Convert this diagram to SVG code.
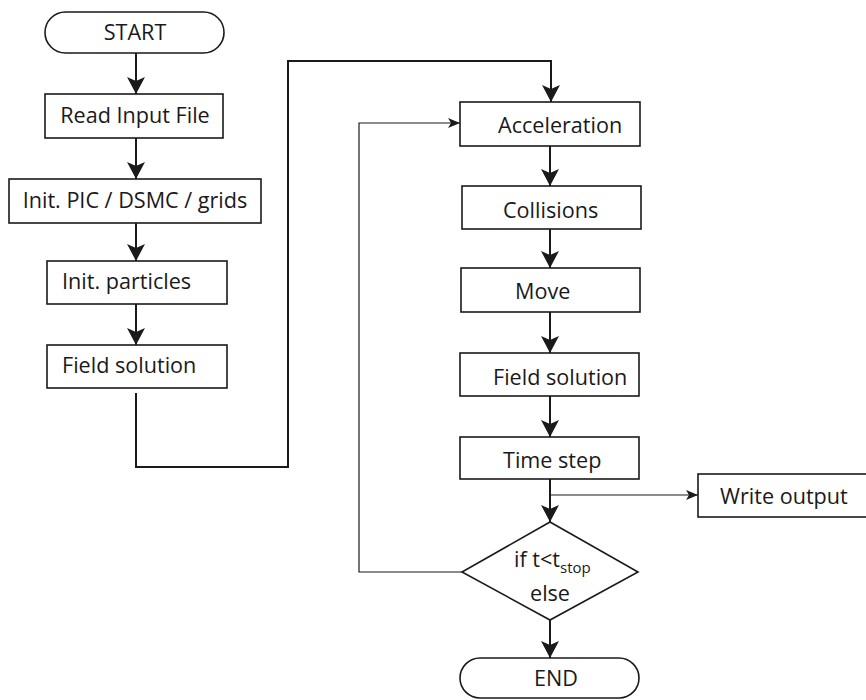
<svg xmlns="http://www.w3.org/2000/svg" width="866" height="700" viewBox="0 0 866 700">
  <style>
    .box { fill: #ffffff; stroke: #1a1a1a; stroke-width: 1.6; }
    .lbl { font-family: "Open Sans", "Noto Sans", "Liberation Sans", sans-serif; font-size: 21.6px; fill: #1a1a1a; }
    .mid { text-anchor: middle; }
    .sub { font-size: 15px; }
    .flow { fill: none; stroke: #1a1a1a; stroke-width: 2; }
    .thin { fill: none; stroke: #1a1a1a; stroke-width: 1.2; }
  </style>
  <defs>
    <marker id="head" markerUnits="userSpaceOnUse" viewBox="0 0 18 18" refX="17" refY="9" markerWidth="18" markerHeight="18" orient="auto">
      <path d="M0,0 L17,9 L0,18 L4,9 Z" fill="#1a1a1a"/>
    </marker>
    <marker id="headSmall" markerUnits="userSpaceOnUse" viewBox="0 0 12 10" refX="12" refY="5" markerWidth="12" markerHeight="10" orient="auto">
      <path d="M0,0 L12,5 L0,10 L3,5 Z" fill="#1a1a1a"/>
    </marker>
  </defs>

  <rect width="866" height="700" fill="#ffffff"/>

  <!-- connectors -->
  <g id="connectors">
    <line class="flow" x1="136" y1="53" x2="136" y2="94" marker-end="url(#head)"/>
    <line class="flow" x1="136" y1="138" x2="136" y2="179" marker-end="url(#head)"/>
    <line class="flow" x1="136" y1="223" x2="136" y2="261" marker-end="url(#head)"/>
    <line class="flow" x1="136" y1="304" x2="136" y2="345" marker-end="url(#head)"/>
    <path class="flow" d="M136,393 V467 H288 V61 H551 V102" marker-end="url(#head)"/>
    <line class="flow" x1="550" y1="146" x2="550" y2="186" marker-end="url(#head)"/>
    <line class="flow" x1="550" y1="229" x2="550" y2="268" marker-end="url(#head)"/>
    <line class="flow" x1="550" y1="312" x2="550" y2="353" marker-end="url(#head)"/>
    <line class="flow" x1="550" y1="396" x2="550" y2="437" marker-end="url(#head)"/>
    <line class="flow" x1="550" y1="479" x2="550" y2="522" marker-end="url(#head)"/>
    <path class="thin" d="M550,495 H698" marker-end="url(#headSmall)"/>
    <path class="thin" d="M462,572 H359 V123 H460" marker-end="url(#headSmall)"/>
    <line class="flow" x1="550" y1="620" x2="550" y2="658" marker-end="url(#head)"/>
  </g>

  <!-- left column -->
  <g id="start">
    <rect class="box" x="45" y="12" width="179" height="41" rx="20.5"/>
    <text class="lbl mid" x="135" y="40">START</text>
  </g>
  <g id="read-input">
    <rect class="box" x="45" y="94" width="178" height="44"/>
    <text class="lbl mid" x="135" y="123">Read Input File</text>
  </g>
  <g id="init-grids">
    <rect class="box" x="9" y="179" width="252" height="44"/>
    <text class="lbl mid" x="135" y="208">Init. PIC / DSMC / grids</text>
  </g>
  <g id="init-particles">
    <rect class="box" x="47" y="261" width="180" height="43"/>
    <text class="lbl" x="62" y="289">Init. particles</text>
  </g>
  <g id="field-solution-init">
    <rect class="box" x="47" y="345" width="180" height="43"/>
    <text class="lbl" x="62" y="373">Field solution</text>
  </g>

  <!-- main loop -->
  <g id="acceleration">
    <rect class="box" x="460" y="102" width="180" height="44"/>
    <text class="lbl" x="498" y="133">Acceleration</text>
  </g>
  <g id="collisions">
    <rect class="box" x="462" y="186" width="179" height="43"/>
    <text class="lbl" x="503" y="218">Collisions</text>
  </g>
  <g id="move">
    <rect class="box" x="461" y="268" width="179" height="44"/>
    <text class="lbl" x="515" y="299">Move</text>
  </g>
  <g id="field-solution">
    <rect class="box" x="460" y="353" width="179" height="43"/>
    <text class="lbl" x="493" y="385">Field solution</text>
  </g>
  <g id="time-step">
    <rect class="box" x="460" y="437" width="179" height="42"/>
    <text class="lbl" x="503" y="468">Time step</text>
  </g>
  <g id="write-output">
    <rect class="box" x="698" y="474" width="170" height="43"/>
    <text class="lbl" x="720" y="504">Write output</text>
  </g>
  <g id="decision">
    <path class="box" d="M550,522 L638,572 L550,620 L462,572 Z"/>
    <text class="lbl" x="514" y="567">if t&lt;t<tspan class="sub" dy="6">stop</tspan></text>
    <text class="lbl mid" x="550" y="601">else</text>
  </g>
  <g id="end">
    <rect class="box" x="460" y="658" width="179" height="40" rx="20"/>
    <text class="lbl mid" x="556" y="686">END</text>
  </g>
</svg>
